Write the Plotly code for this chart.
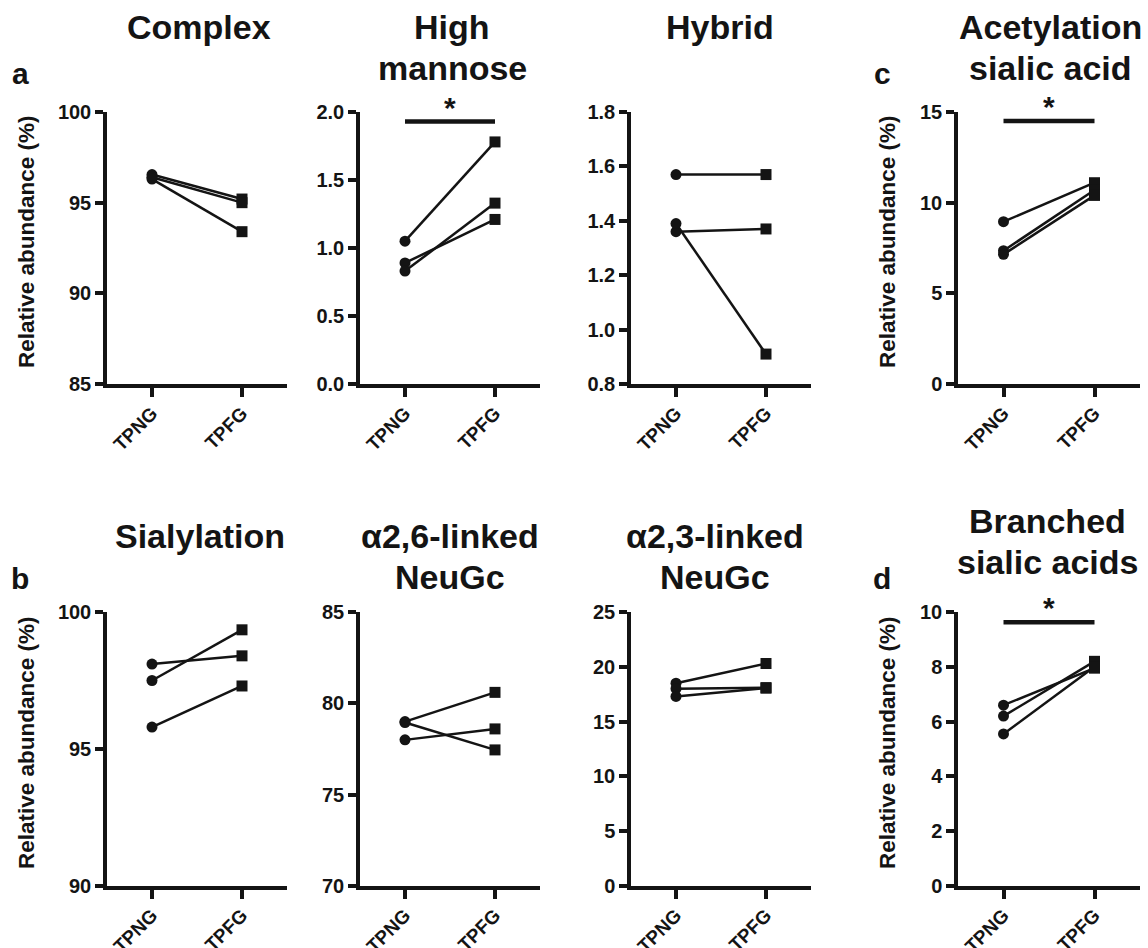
import plotly.graph_objects as go

W, H = 1148, 948
groups = ["TPNG", "TPFG"]

# Panel titles (line by line)
titles = [["Complex"], ["High", "mannose"], ["Hybrid"], ["Acetylation", "sialic acid"],
          ["Sialylation"], ["\u03b12,6-linked", "NeuGc"], ["\u03b12,3-linked", "NeuGc"],
          ["Branched", "sialic acids"]]

# Paired values: TPNG -> TPFG for three samples
complex_tpng = [96.55, 96.4, 96.3]
complex_tpfg = [95.2, 95.0, 93.4]
highman_tpng = [1.05, 0.89, 0.83]
highman_tpfg = [1.78, 1.21, 1.33]
hybrid_tpng = [1.57, 1.36, 1.39]
hybrid_tpfg = [1.57, 1.37, 0.91]
acetyl_tpng = [8.95, 7.35, 7.15]
acetyl_tpfg = [11.1, 10.7, 10.4]
sialyl_tpng = [98.1, 97.5, 95.8]
sialyl_tpfg = [98.4, 99.35, 97.3]
a26_tpng = [79.0, 78.95, 78.0]
a26_tpfg = [80.6, 77.45, 78.6]
a23_tpng = [18.5, 18.0, 17.3]
a23_tpfg = [20.3, 18.1, 18.05]
branch_tpng = [6.6, 6.2, 5.55]
branch_tpfg = [7.95, 8.2, 8.0]

tpng = [complex_tpng, highman_tpng, hybrid_tpng, acetyl_tpng,
        sialyl_tpng, a26_tpng, a23_tpng, branch_tpng]
tpfg = [complex_tpfg, highman_tpfg, hybrid_tpfg, acetyl_tpfg,
        sialyl_tpfg, a26_tpfg, a23_tpfg, branch_tpfg]

y_ranges = [[85, 100], [0, 2.0], [0.8, 1.8], [0, 15],
            [90, 100], [70, 85], [0, 25], [0, 10]]
y_dticks = [5, 0.5, 0.2, 5, 5, 5, 5, 2]
y_tickformat = ["d", ".1f", ".1f", "d", "d", "d", "d", "d"]

# significance bars: panel index -> bar height
sig_bars = {1: 1.93, 3: 14.5, 7: 9.63}

# layout geometry (pixels)
col_x = [(107, 287), (360, 540), (631, 811), (958, 1140)]
row_y = [(112, 384), (612, 886)]

INK = "#141414"
FONT = "Liberation Sans, Arial, Helvetica, sans-serif"

fig = go.Figure()
layout = dict(width=W, height=H, margin=dict(l=0, r=0, t=0, b=0, autoexpand=False),
              template="none",
              plot_bgcolor="white", paper_bgcolor="white", showlegend=False,
              font=dict(family=FONT, color=INK, size=20, weight="bold"))
annotations = []

for i in range(8):
    r, c = divmod(i, 4)
    x0, x1 = col_x[c]
    yt, yb = row_y[r]
    sfx = "" if i == 0 else str(i + 1)
    xa, ya = "x" + sfx, "y" + sfx
    layout["xaxis" + sfx] = dict(
        domain=[x0 / W, x1 / W], anchor=ya, type="category", automargin=False,
        categoryorder="array", categoryarray=groups, range=[-0.5, 1.5],
        showline=True, linewidth=3.5, linecolor=INK, showgrid=False, zeroline=False,
        ticks="outside", ticklen=9, tickwidth=3.5, tickcolor=INK, tickangle=-45,
        ticklabelstandoff=-2,
        tickfont=dict(size=19, family=FONT, color=INK, weight="bold"), fixedrange=True)
    layout["yaxis" + sfx] = dict(
        domain=[1 - yb / H, 1 - yt / H], anchor=xa, range=y_ranges[i], automargin=False,
        tick0=y_ranges[i][0], dtick=y_dticks[i], tickformat=y_tickformat[i],
        showline=True, linewidth=3.5, linecolor=INK, showgrid=False, zeroline=False,
        ticks="outside", ticklen=8, tickwidth=3.5, tickcolor=INK,
        tickfont=dict(size=20, family=FONT, color=INK, weight="bold"), fixedrange=True)
    for a, b in zip(tpng[i], tpfg[i]):
        fig.add_trace(go.Scatter(
            x=groups, y=[a, b], xaxis=xa, yaxis=ya, mode="lines+markers",
            line=dict(color=INK, width=2.5),
            marker=dict(symbol=["circle", "square"], size=[11, 11], color=INK,
                        opacity=1, line=dict(width=0, color=INK)),
            opacity=1, cliponaxis=False, hoverinfo="skip"))
    if i in sig_bars:
        yv = sig_bars[i]
        fig.add_trace(go.Scatter(
            x=groups, y=[yv, yv], xaxis=xa, yaxis=ya, mode="lines",
            line=dict(color=INK, width=4.5), cliponaxis=False, hoverinfo="skip"))
        annotations.append(dict(x=0.5, y=yv, xref=xa, yref=ya, text="*",
                                showarrow=False, yanchor="bottom", yshift=-4,
                                font=dict(size=30, family=FONT, color=INK, weight="bold")))

# titles
title_pos = [(199, 27), (452, 27), (720, 27), (1050, 27),
             (200, 536), (450, 536), (715, 536), (1047, 521)]
for i, lines in enumerate(titles):
    cx, cy = title_pos[i]
    for k, t in enumerate(lines):
        annotations.append(dict(x=cx / W, y=1 - (cy + 41 * k) / H, xref="paper", yref="paper",
                                text=t, showarrow=False, xanchor="center", yanchor="middle",
                                font=dict(size=34, family=FONT, color=INK, weight="bold")))

# panel letters
for lab, (px, py) in zip(["a", "b", "c", "d"], [(20, 73), (20, 578), (882, 73), (882, 578)]):
    annotations.append(dict(x=px / W, y=1 - py / H, xref="paper", yref="paper", text=lab,
                            showarrow=False, xanchor="center", yanchor="middle",
                            font=dict(size=30, family=FONT, color=INK, weight="bold")))

# y-axis titles
for px, (yt, yb) in [(26, row_y[0]), (887, row_y[0]), (26, row_y[1]), (887, row_y[1])]:
    annotations.append(dict(x=px / W, y=1 - ((yt + yb) / 2 - 6) / H, xref="paper", yref="paper",
                            text="Relative abundance (%)", textangle=-90, showarrow=False,
                            xanchor="center", yanchor="middle",
                            font=dict(size=22.5, family=FONT, color=INK, weight="bold")))

layout["annotations"] = annotations
fig.update_layout(**layout)
fig.write_html("out.html", config={"displayModeBar": False},
               post_script="document.body.style.margin='0px';document.body.style.padding='0px';")
